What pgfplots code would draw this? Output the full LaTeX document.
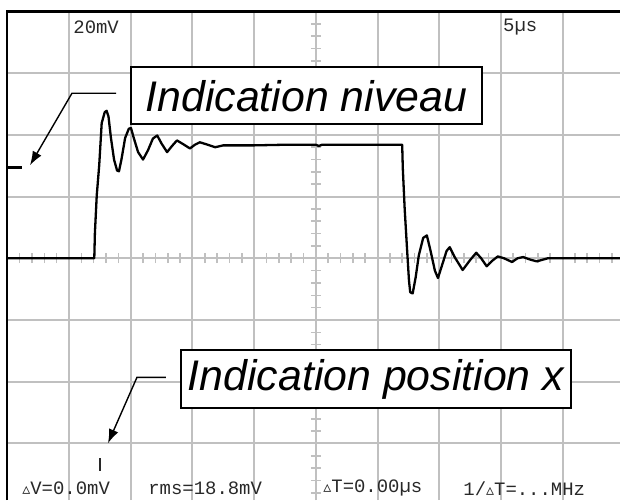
\documentclass[border=0pt]{standalone}
\usepackage{pgfplots}
\pgfplotsset{compat=1.18}
\usepackage{fontspec}
\setmainfont{Liberation Sans}
\newfontfamily\scopefont{Liberation Mono}
\newfontfamily\djs{DejaVu Sans}
\usetikzlibrary{arrows.meta}
\definecolor{gridgray}{RGB}{192,192,192}
\definecolor{scrtext}{RGB}{40,40,40}

% trace, in divisions (x: 0..10, y: -4..4)
\pgfplotstableread{
x y
0 0
1.41 0
1.42 0.41
1.45 1.02
1.49 1.51
1.53 2.19
1.58 2.37
1.61 2.39
1.64 2.30
1.68 1.95
1.73 1.60
1.78 1.42
1.81 1.41
1.85 1.60
1.91 1.95
1.97 2.10
2.005 2.11
2.05 1.95
2.12 1.72
2.20 1.60
2.28 1.75
2.36 1.94
2.43 1.99
2.50 1.86
2.59 1.72
2.67 1.82
2.75 1.91
2.85 1.85
2.96 1.78
3.04 1.84
3.12 1.88
3.25 1.84
3.37 1.80
3.50 1.83
4.00 1.83
4.50 1.84
5.00 1.84
5.05 1.82
5.10 1.84
6.40 1.84
6.41 1.46
6.44 0.81
6.48 0.13
6.51 -0.36
6.53 -0.55
6.57 -0.57
6.62 -0.30
6.67 0.05
6.74 0.33
6.80 0.37
6.86 0.12
6.93 -0.20
6.98 -0.32
7.05 -0.10
7.12 0.12
7.17 0.18
7.25 0.02
7.38 -0.19
7.50 -0.03
7.60 0.09
7.68 0
7.77 -0.13
7.86 -0.04
7.95 0.03
8.05 0
8.18 -0.06
8.27 0
8.36 0.02
8.47 -0.02
8.58 -0.05
8.76 0
9.93 0
}\trace

\begin{document}
\begin{tikzpicture}
\begin{axis}[
  x=30.85bp, y=30.85bp,
  xmin=0, xmax=9.93, ymin=-3.92, ymax=4,
  xtick={1,...,9}, ytick={-3,...,3},
  xticklabels={}, yticklabels={},
  tick style={draw=none},
  axis line style={draw=none},
  grid=major,
  major grid style={gridgray, line width=1bp},
  clip=false,
]
\coordinate (bl) at (axis cs:-0.118,-3.92);
\coordinate (tr) at (axis cs:9.93,4.186);

% graduations on the centre lines
\pgfplotsinvokeforeach{0.2,0.4,...,9.8}{
  \draw[gridgray, line width=0.8bp] (axis cs:#1,-0.08) -- (axis cs:#1,0.08);
}
\pgfplotsinvokeforeach{-3.8,-3.6,...,3.8}{
  \draw[gridgray, line width=0.8bp] (axis cs:4.92,#1) -- (axis cs:5.08,#1);
}
\draw[gridgray, line width=1bp] (axis cs:0,0) -- (axis cs:9.93,0);
\draw[gridgray, line width=1bp] (axis cs:5,-3.92) -- (axis cs:5,4);

\addplot[black, line width=1.15bp, line join=round] table[x=x, y=y] {\trace};

% frame (left and top only, the screen is cropped)
\draw[black, line width=1.1bp] (axis cs:0,-3.92) -- (axis cs:0,4) -- (axis cs:9.93,4);

% level and position markers
\draw[black, line width=1.5bp] (axis cs:0,1.475) -- (axis cs:0.238,1.475);
\draw[scrtext, line width=0.6bp] (axis cs:1.502,-3.24) -- (axis cs:1.502,-3.44);

% screen readouts
\begin{scope}[every node/.style={anchor=west, inner sep=0pt, text=scrtext,
    font=\scopefont\fontsize{9.5}{9.5}\selectfont}]
\node at (axis cs:1.065,3.744) {20mV};
\node at (axis cs:8.03,3.744) {5µs};
\node at (axis cs:0.238,-3.728) {{\djs\fontsize{8}{8}\selectfont ▵}V=0.0mV};
\node at (axis cs:2.28,-3.728) {rms=18.8mV};
\node at (axis cs:5.117,-3.728) {{\djs\fontsize{8}{8}\selectfont ▵}T=0.00µs};
\node at (axis cs:7.386,-3.728) {1/{\djs\fontsize{8}{8}\selectfont ▵}T=...MHz};
\end{scope}

% annotations
\draw[black, line width=0.7bp, -{Latex[length=7bp,width=5bp]}]
  (axis cs:1.762,2.674) -- (axis cs:1.048,2.674) -- (axis cs:0.368,1.507);
\node[draw=black, fill=white, line width=1.1bp, minimum width=175.5bp,
  minimum height=28.5bp, inner sep=0pt,
  font=\itshape\fontsize{21.5}{24}\selectfont]
  at (axis cs:4.847,2.634) {Indication niveau};

\draw[black, line width=0.7bp, -{Latex[length=7bp,width=5bp]}]
  (axis cs:2.572,-1.929) -- (axis cs:2.102,-1.929) -- (axis cs:1.632,-2.998);
\node[draw=black, fill=white, line width=1.1bp, minimum width=195bp,
  minimum height=29bp, inner sep=0pt,
  font=\itshape\fontsize{21.5}{24}\selectfont]
  at (axis cs:5.975,-1.961) {Indication position x};
\end{axis}
\pgfresetboundingbox
\path[use as bounding box] (bl) rectangle (tr);
\end{tikzpicture}
\end{document}
